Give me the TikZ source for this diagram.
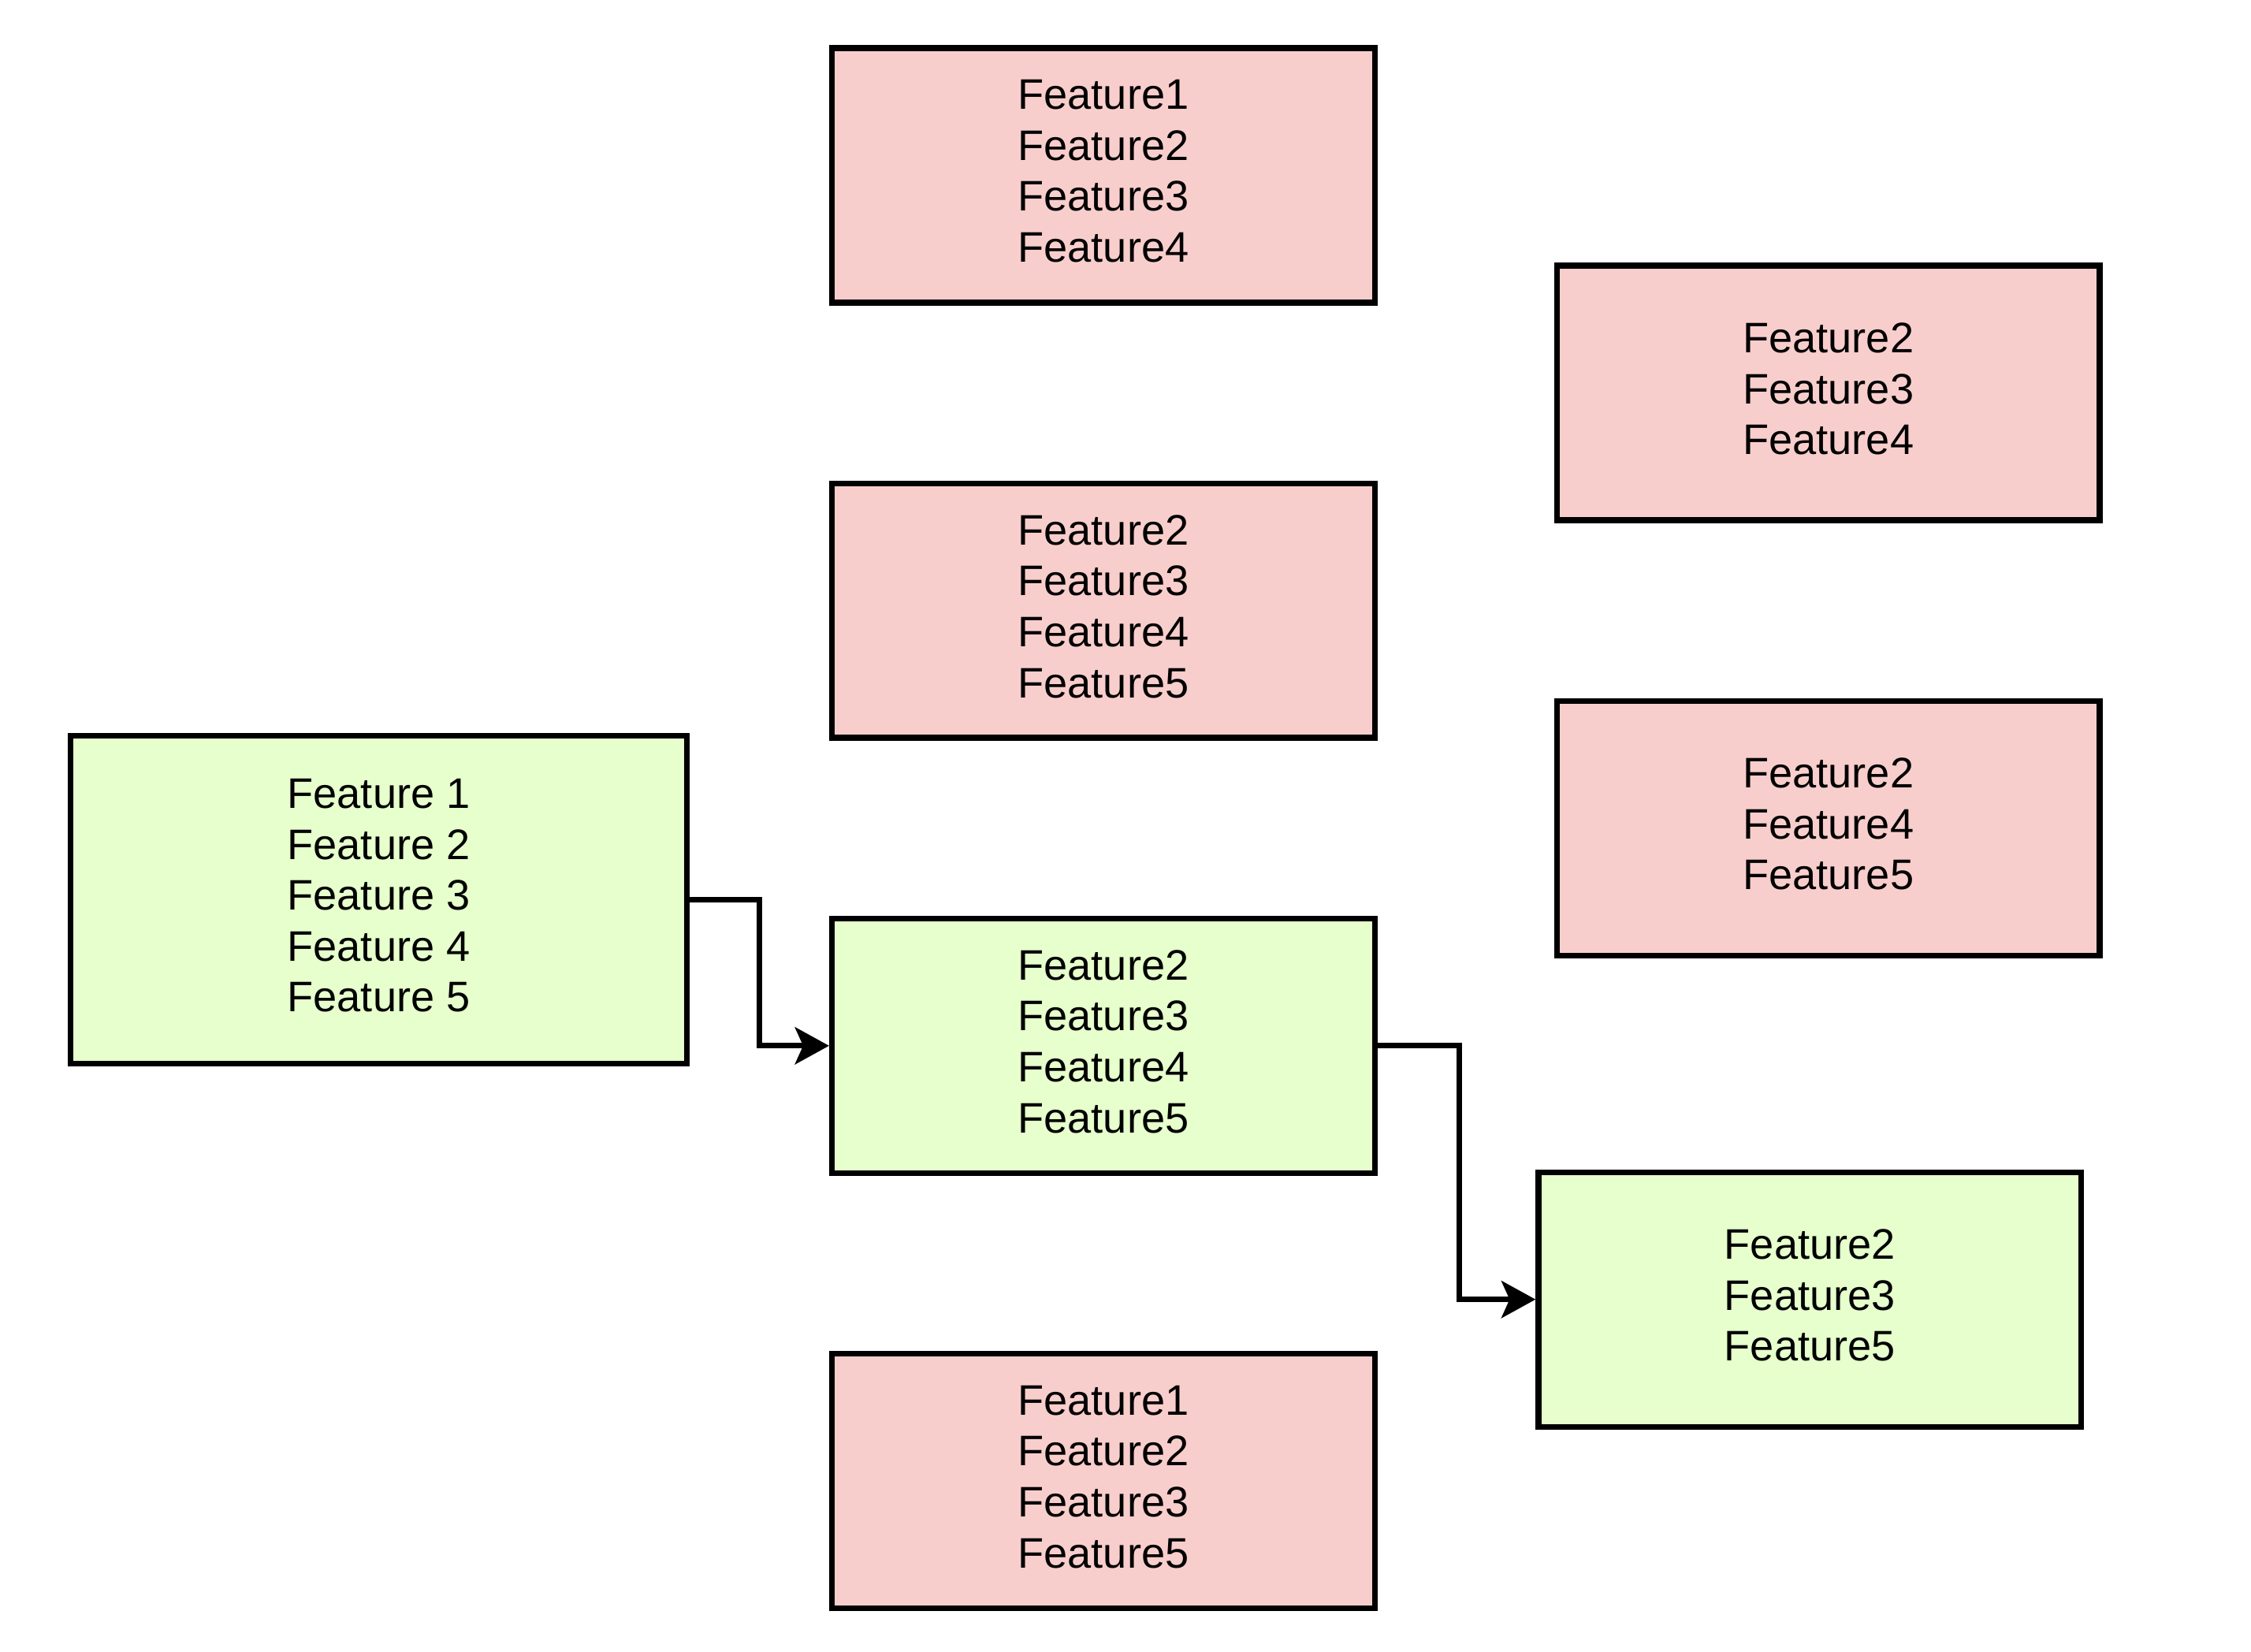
\documentclass[tikz,border=0pt]{standalone}
\usepackage{fontspec}
\setmainfont{Liberation Sans}
\usepackage{tikz}
\usetikzlibrary{arrows.meta,positioning,calc}
\definecolor{dropred}{HTML}{F8CECC}
\definecolor{keepgreen}{HTML}{E6FFCC}

\begin{document}
\begin{tikzpicture}[node distance=60.6pt and 61.1pt, every node/.style={font=\fontsize{14.8pt}{17.65pt}\selectfont}]

\tikzstyle{dropbox} = [rectangle, draw, line width=2pt, fill=dropred, align=center, text depth=3pt, minimum width=188.1pt, minimum height=88.2pt]
\tikzstyle{keepbox} = [rectangle, draw, line width=2pt, fill=keepgreen, align=center, text depth=3pt, minimum width=188.1pt, minimum height=88.2pt]
\tikzstyle{arrow} = [line width=2pt, -{Stealth[length=11.8pt, width=12.8pt, inset=2.8pt]}]

% Frame
\useasboundingbox (-382.35pt,60.77pt) rectangle (397.65pt,-511.67pt);

% Round 1
\node[dropbox] (r1a) {Feature1\\Feature2\\Feature3\\Feature4};
\node[dropbox, below=of r1a] (r1b) {Feature2\\Feature3\\Feature4\\Feature5};
\node[keepbox, below=of r1b] (r1c) {Feature2\\Feature3\\Feature4\\Feature5};
\node[dropbox, below=of r1c] (r1d) {Feature1\\Feature2\\Feature3\\Feature5};

% Round 2
\coordinate (m1) at ($(r1a.east)!0.5!(r1b.east)$);
\coordinate (m2) at ($(r1b.east)!0.5!(r1c.east)$);
\node[dropbox, right=of m1] (r2a) {Feature2\\Feature3\\Feature4};
\node[dropbox, right=of m2] (r2b) {Feature2\\Feature4\\Feature5};
\node[keepbox, right=54.7pt of r1c, yshift=-87.9pt] (r2c) {Feature2\\Feature3\\Feature5};

% Start
\node[keepbox, minimum width=213.7pt, minimum height=113.6pt, left=48.2pt of r1c, yshift=50.6pt] (start) {Feature 1\\Feature 2\\Feature 3\\Feature 4\\Feature 5};

% Arrows
\draw[arrow] (start.east) -- ++(24.1pt,0) |- (r1c.west);
\draw[arrow] (r1c.east) -- ++(28.2pt,0) |- (r2c.west);

\end{tikzpicture}
\end{document}
